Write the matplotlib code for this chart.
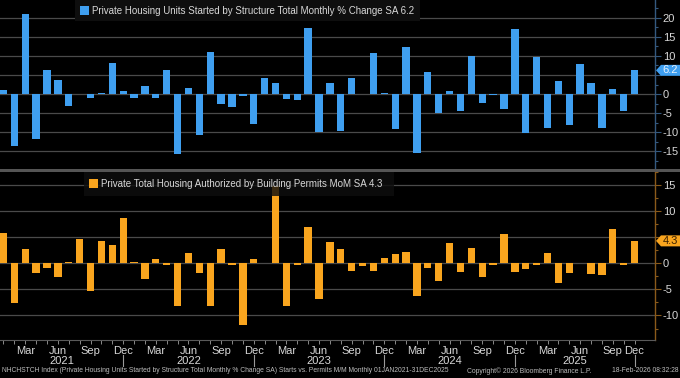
import matplotlib
matplotlib.use("Agg")
import matplotlib.pyplot as plt
import matplotlib.transforms as mtrans
from matplotlib.patches import Rectangle, Polygon
from matplotlib.lines import Line2D
from matplotlib.ticker import FixedLocator, MultipleLocator
import numpy as np

# ---------------- data ----------------
month_names = ["Jan", "Feb", "Mar", "Apr", "May", "Jun",
               "Jul", "Aug", "Sep", "Oct", "Nov", "Dec"]
years = [2021, 2022, 2023, 2024, 2025]
missing = [(2025, 10)]  # October 2025 not published
periods = [(y, m) for y in years for m in range(1, 13) if (y, m) not in missing]

starts_pct = [
    1.0, -13.6, 20.9, -11.7, 6.4, 3.8, -3.1, 0.0, -0.9, 0.2, 8.1, 0.9,      # 2021
    -0.9, 2.1, -1.0, 6.4, -15.7, 1.5, -10.7, 10.9, -2.7, -3.4, -0.6, -7.9,  # 2022
    4.1, 3.0, -1.3, -1.6, 17.2, -10.0, 3.0, -9.7, 4.3, 0.1, 10.8, 0.4,      # 2023
    -9.1, 12.4, -15.4, 5.7, -4.9, 0.9, -4.5, 10.0, -2.3, -0.2, -4.0, 16.9,  # 2024
    -10.3, 9.7, -8.9, 3.3, -8.2, 7.9, 3.0, -8.9, 1.2, -4.4, 6.2,            # 2025 (no Oct)
]
permits_pct = [
    5.9, -7.6, 2.7, -1.8, -0.9, -2.7, 0.3, 4.7, -5.3, 4.2, 3.5, 8.7,        # 2021
    0.2, -3.0, 0.8, -0.3, -8.2, 2.0, -1.8, -8.2, 2.8, -0.3, -11.8, 0.8,     # 2022
    0.0, 14.8, -8.2, -0.3, 7.0, -6.8, 4.1, 2.7, -1.4, -0.5, -1.4, 1.1,      # 2023
    1.8, 2.1, -6.3, -0.9, -3.4, 3.9, -1.6, 2.9, -2.7, -0.3, 5.7, -1.7,      # 2024
    -1.1, -0.3, 2.0, -3.7, -1.8, 0.0, -2.1, -2.2, 6.5, -0.3, 4.3,           # 2025 (no Oct)
]
starts_last = 6.2
permits_last = 4.3

top_ticks = [-15, -10, -5, 0, 5, 10, 15, 20]
bot_ticks = [-10, -5, 0, 5, 10, 15]
hidden_tick = 5  # covered by the last-value tag in the reference
label_months = [3, 6, 9, 12]

starts_title = "Private Housing Units Started by Structure Total Monthly % Change SA 6.2"
permits_title = "Private Total Housing Authorized by Building Permits MoM SA 4.3"
footer_left = ("NHCHSTCH Index (Private Housing Units Started by Structure Total Monthly "
               "% Change SA) Starts vs. Permits M/M Monthly 01JAN2021-31DEC2025")
footer_mid = "Copyright\u00a9 2026 Bloomberg Finance L.P."
footer_right = "18-Feb-2026 08:32:28"

# ---------------- style ----------------
FONT = ["Liberation Sans", "DejaVu Sans"]
plt.rcParams["font.family"] = FONT
BLUE = "#3f9ff0"
ORANGE = "#f9a51e"
GRID = "#4a4a4a"
TXT = "#d8d8d8"

W, H = 680, 378
def fx(px): return px / W
def fy(py): return 1 - py / H

fig = plt.figure(figsize=(W / 100, H / 100), dpi=100, facecolor="black")

PLOT_R = 655
ax1 = fig.add_axes([0, fy(169), PLOT_R / W, 169 / H])
ax2 = fig.add_axes([0, fy(340), PLOT_R / W, (340 - 172) / H])

x = np.arange(len(periods))
step = 10.88
xlim = (-3.5 / step, (PLOT_R - 3.5) / step)

def style_axis(ax, vals, color, ylim, ticks, spine_col):
    ax.set_facecolor("black")
    ax.bar(x, vals, width=0.67, color=color, linewidth=0, zorder=3)
    ax.set_xlim(*xlim)
    ax.set_ylim(*ylim)
    for s in ["left", "top", "bottom"]:
        ax.spines[s].set_visible(False)
    ax.spines["right"].set_color(spine_col)
    ax.spines["right"].set_linewidth(1.0)
    ax.yaxis.tick_right()
    ax.yaxis.set_major_locator(FixedLocator(ticks))
    ax.set_yticklabels(["" if t == hidden_tick else str(t) for t in ticks])
    ax.yaxis.set_minor_locator(MultipleLocator(2.5))
    ax.tick_params(axis="y", which="major", length=4, width=0.8, color=spine_col,
                   labelcolor=TXT, labelsize=8, pad=1.5)
    ax.tick_params(axis="y", which="minor", length=2, width=0.8, color=spine_col)
    for t in ticks:
        ax.axhline(t, color=GRID, lw=0.9, zorder=1)

style_axis(ax1, starts_pct, BLUE, (-19.6, 24.6), top_ticks, "#34597f")
style_axis(ax2, permits_pct, ORANGE, (-14.7, 17.5), bot_ticks, "#8a5a1a")

ax1.set_xticks([])
# x ticks on bottom panel
ax2.spines["bottom"].set_visible(True)
ax2.spines["bottom"].set_color("#5a5a5a")
ax2.spines["bottom"].set_linewidth(0.8)
ax2.set_xticks(x, minor=True)
lab_pos = [i for i, (y, m) in enumerate(periods) if m in label_months]
lab_txt = [month_names[periods[i][1] - 1] for i in lab_pos]
ax2.set_xticks(lab_pos)
ax2.set_xticklabels(lab_txt)
ax2.tick_params(axis="x", which="both", length=3, width=0.7, color="#8a8a8a",
                labelcolor=TXT, labelsize=8, pad=1.5)

# year labels and separators
btr = mtrans.blended_transform_factory(ax2.transData, fig.transFigure)
prev = xlim[0]
for yr in years:
    idx = [i for i, (y, m) in enumerate(periods) if y == yr]
    dec = idx[-1]
    ax2.text((prev + dec) / 2, fy(360.5), str(yr), transform=btr, ha="center",
             va="center", color=TXT, fontsize=8, clip_on=False)
    fig.add_artist(Line2D([dec, dec], [fy(355), fy(366)], transform=btr,
                          color="#9a9a9a", lw=0.8))
    prev = dec

# separator band between panels
fig.add_artist(Rectangle((0, fy(172)), 1, 3 / H, transform=fig.transFigure,
                         facecolor="#555555", edgecolor="none", zorder=4))

# legends
def legend(x0, y0, x1, y1, color, text, alpha):
    fig.add_artist(Rectangle((fx(x0), fy(y1)), (x1 - x0) / W, (y1 - y0) / H,
                             transform=fig.transFigure, facecolor="#0e0e0e",
                             edgecolor="none", alpha=alpha, zorder=5))
    ym = (y0 + y1) / 2
    fig.add_artist(Rectangle((fx(x0 + 5), fy(ym + 4.5)), 9 / W, 9 / H,
                             transform=fig.transFigure, facecolor=color,
                             edgecolor="none", zorder=6))
    fig.text(fx(x0 + 17), fy(ym), text, color=TXT, fontsize=7.05,
             va="center", ha="left", zorder=6)

legend(75, 0, 420, 21, BLUE, starts_title, 1.0)
legend(84, 172, 394, 196, ORANGE, permits_title, 0.82)

# last-value tags
def tag(ax, val, bg, fg):
    _, yy = ax.transData.transform((0, val))  # display pixels from bottom
    pts = [(656, yy), (661, yy + 5.5), (680, yy + 5.5), (680, yy - 5.5), (661, yy - 5.5)]
    pts = [(px / W, py / H) for px, py in pts]
    fig.add_artist(Polygon(pts, closed=True, transform=fig.transFigure,
                           facecolor=bg, edgecolor="none", zorder=7))
    fig.text(fx(670), yy / H, f"{val}", color=fg, fontsize=8, ha="center",
             va="center", zorder=8)

tag(ax1, starts_last, BLUE, "#e8f3ff")
tag(ax2, permits_last, ORANGE, "#3a2000")

# footer
fig.text(fx(2), fy(371), footer_left, color="#bdbdbd", fontsize=4.85, va="center", ha="left")
fig.text(fx(467), fy(371), footer_mid, color="#bdbdbd", fontsize=4.85, va="center", ha="left")
fig.text(fx(678), fy(371), footer_right, color="#bdbdbd", fontsize=4.85, va="center", ha="right")

fig.savefig("out.png", dpi=100, facecolor="black")
